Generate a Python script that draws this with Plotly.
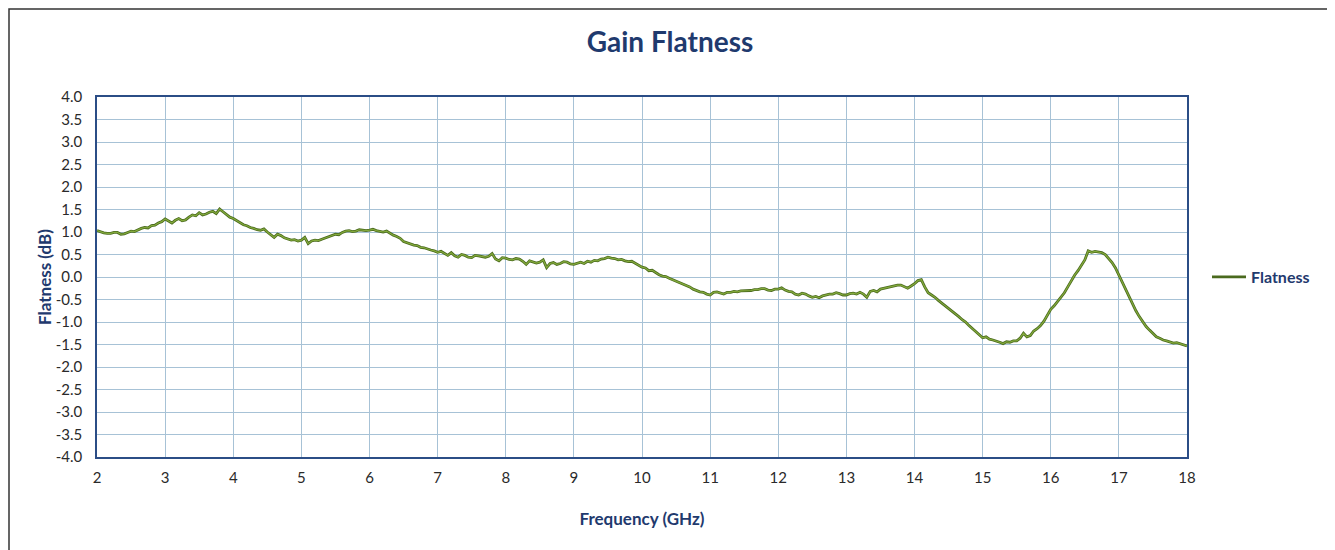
import numpy as np
import plotly.graph_objects as go

# Frequency sweep 2-18 GHz, 0.05 GHz step
freq_ghz = np.round(np.arange(2.0, 18.0001, 0.05), 2)

# Flatness (dB), one row per GHz
flatness_db = [
    1.03, 1.00, 0.98, 0.97, 0.97, 0.99, 0.99, 0.95, 0.96, 0.99, 1.02, 1.01, 1.05, 1.08, 1.10, 1.09, 1.14, 1.15, 1.20, 1.23,
    1.29, 1.24, 1.20, 1.26, 1.30, 1.25, 1.27, 1.33, 1.38, 1.36, 1.43, 1.38, 1.40, 1.44, 1.46, 1.41, 1.51, 1.45, 1.38, 1.33,
    1.30, 1.25, 1.22, 1.16, 1.14, 1.10, 1.08, 1.05, 1.04, 1.07, 1.00, 0.94, 0.88, 0.95, 0.92, 0.87, 0.85, 0.82, 0.83, 0.80,
    0.82, 0.88, 0.74, 0.80, 0.82, 0.81, 0.84, 0.87, 0.90, 0.92, 0.95, 0.94, 0.99, 1.02, 1.03, 1.01, 1.02, 1.05, 1.04, 1.03,
    1.04, 1.06, 1.03, 1.01, 1.00, 1.02, 0.97, 0.93, 0.90, 0.86, 0.79, 0.76, 0.74, 0.71, 0.70, 0.66, 0.65, 0.62, 0.60, 0.58,
    0.55, 0.57, 0.52, 0.48, 0.54, 0.47, 0.44, 0.50, 0.48, 0.44, 0.43, 0.48, 0.47, 0.45, 0.44, 0.46, 0.52, 0.40, 0.36, 0.43,
    0.42, 0.39, 0.38, 0.41, 0.40, 0.35, 0.28, 0.36, 0.34, 0.31, 0.33, 0.38, 0.21, 0.30, 0.32, 0.28, 0.30, 0.34, 0.33, 0.29,
    0.28, 0.31, 0.33, 0.30, 0.35, 0.33, 0.37, 0.36, 0.40, 0.41, 0.44, 0.42, 0.41, 0.38, 0.39, 0.36, 0.34, 0.35, 0.30, 0.26,
    0.22, 0.20, 0.14, 0.15, 0.10, 0.05, 0.02, 0.01, -0.03, -0.06, -0.10, -0.12, -0.16, -0.18, -0.22, -0.27, -0.30, -0.33, -0.34, -0.38,
    -0.40, -0.34, -0.33, -0.36, -0.38, -0.34, -0.34, -0.32, -0.33, -0.31, -0.31, -0.30, -0.30, -0.28, -0.28, -0.26, -0.26, -0.29, -0.30, -0.27,
    -0.27, -0.24, -0.29, -0.32, -0.33, -0.38, -0.40, -0.36, -0.38, -0.42, -0.45, -0.43, -0.46, -0.42, -0.40, -0.38, -0.38, -0.35, -0.37, -0.40,
    -0.40, -0.37, -0.36, -0.38, -0.34, -0.38, -0.45, -0.32, -0.30, -0.33, -0.27, -0.25, -0.24, -0.22, -0.20, -0.18, -0.18, -0.22, -0.25, -0.20,
    -0.15, -0.08, -0.06, -0.22, -0.35, -0.40, -0.45, -0.52, -0.58, -0.62, -0.70, -0.74, -0.80, -0.88, -0.95, -1.00, -1.08, -1.15, -1.22, -1.28,
    -1.35, -1.33, -1.38, -1.40, -1.42, -1.45, -1.48, -1.44, -1.45, -1.42, -1.42, -1.36, -1.25, -1.33, -1.30, -1.20, -1.15, -1.08, -0.98, -0.85,
    -0.72, -0.64, -0.55, -0.46, -0.35, -0.22, -0.08, 0.04, 0.14, 0.26, 0.38, 0.58, 0.55, 0.57, 0.56, 0.54, 0.50, 0.42, 0.32, 0.20,
    0.04, -0.12, -0.30, -0.45, -0.60, -0.75, -0.88, -1.00, -1.10, -1.18, -1.25, -1.33, -1.36, -1.40, -1.42, -1.45, -1.47, -1.46, -1.48, -1.50,
    -1.53,
]

x_ticks = list(range(2, 19))
y_ticks = [4.0, 3.5, 3.0, 2.5, 2.0, 1.5, 1.0, 0.5, 0.0, -0.5, -1.0, -1.5, -2.0, -2.5, -3.0, -3.5, -4.0]

navy = "#1f3a6e"
axis_line = "#2b4d86"
grid = "#a7c2d6"
tick_col = "#2a2a2a"
font_fam = "Lato, 'Open Sans', sans-serif"

# page offset of the plotly div (browser body margin)
OFF = 8
W, H = 1335 - OFF, 550 - OFF
PL, PR, PT, PB = 97 - OFF, 1187 - OFF, 97 - OFF, 457 - OFF  # plot area in figure px
PW, PH = PR - PL, PB - PT

fig = go.Figure()
# dark edge of the line (carries the legend entry)
fig.add_trace(go.Scatter(x=freq_ghz, y=flatness_db, mode="lines", name="<b>Flatness</b>",
                         line=dict(color="#4a6a1e", width=2.8)))
# lighter core
fig.add_trace(go.Scatter(x=freq_ghz, y=flatness_db, mode="lines",
                         line=dict(color="#84ab3c", width=1.2),
                         showlegend=False, hoverinfo="skip"))

fig.update_layout(
    width=W, height=H,
    margin=dict(l=PL, r=W - PR, t=PT, b=H - PB),
    paper_bgcolor="white", plot_bgcolor="white",
    title=dict(text="<b>Gain Flatness</b>", x=(670 - OFF) / W, xanchor="center",
               y=1 - (42 - OFF) / H, yanchor="middle",
               font=dict(family=font_fam, size=28, color=navy)),
    font=dict(family=font_fam, size=15, color=tick_col),
    legend=dict(x=1.0 + (1207 - 1187) / PW, y=0.5, xanchor="left", yanchor="middle",
                font=dict(family=font_fam, size=16, color=navy),
                itemwidth=34, bgcolor="rgba(0,0,0,0)"),
    showlegend=True,
)

fig.update_xaxes(range=[2, 18], tickvals=x_ticks, ticktext=[str(v) for v in x_ticks],
                 showgrid=True, gridcolor=grid, gridwidth=1.3,
                 showline=True, linecolor=axis_line, linewidth=1.5, mirror=True,
                 ticks="", zeroline=False, ticklabelstandoff=6,
                 tickfont=dict(family=font_fam, size=15, color=tick_col),
                 title=dict(text="<b>Frequency (GHz)</b>", standoff=28,
                            font=dict(family=font_fam, size=17, color=navy)))
fig.update_yaxes(range=[-4, 4], tickvals=y_ticks, ticktext=[f"{v:.1f}" for v in y_ticks],
                 showgrid=True, gridcolor=grid, gridwidth=1.3,
                 showline=True, linecolor=axis_line, linewidth=1.5, mirror=True,
                 ticks="", zeroline=False, ticklabelstandoff=10,
                 tickfont=dict(family=font_fam, size=15, color=tick_col),
                 title=dict(text="<b>Flatness (dB)</b>", standoff=0,
                            font=dict(family=font_fam, size=17, color=navy)))

# outer chart border (top/left/right visible, bottom below the page)
fig.add_shape(type="rect", xref="paper", yref="paper",
              x0=(1 - PL) / PW, x1=(1325 - PL) / PW,
              y0=(PB - (H + 20)) / PH, y1=(PB - 1) / PH,
              line=dict(color="#333333", width=1.5), fillcolor="rgba(0,0,0,0)",
              layer="below")

fig.write_html("out.html")
